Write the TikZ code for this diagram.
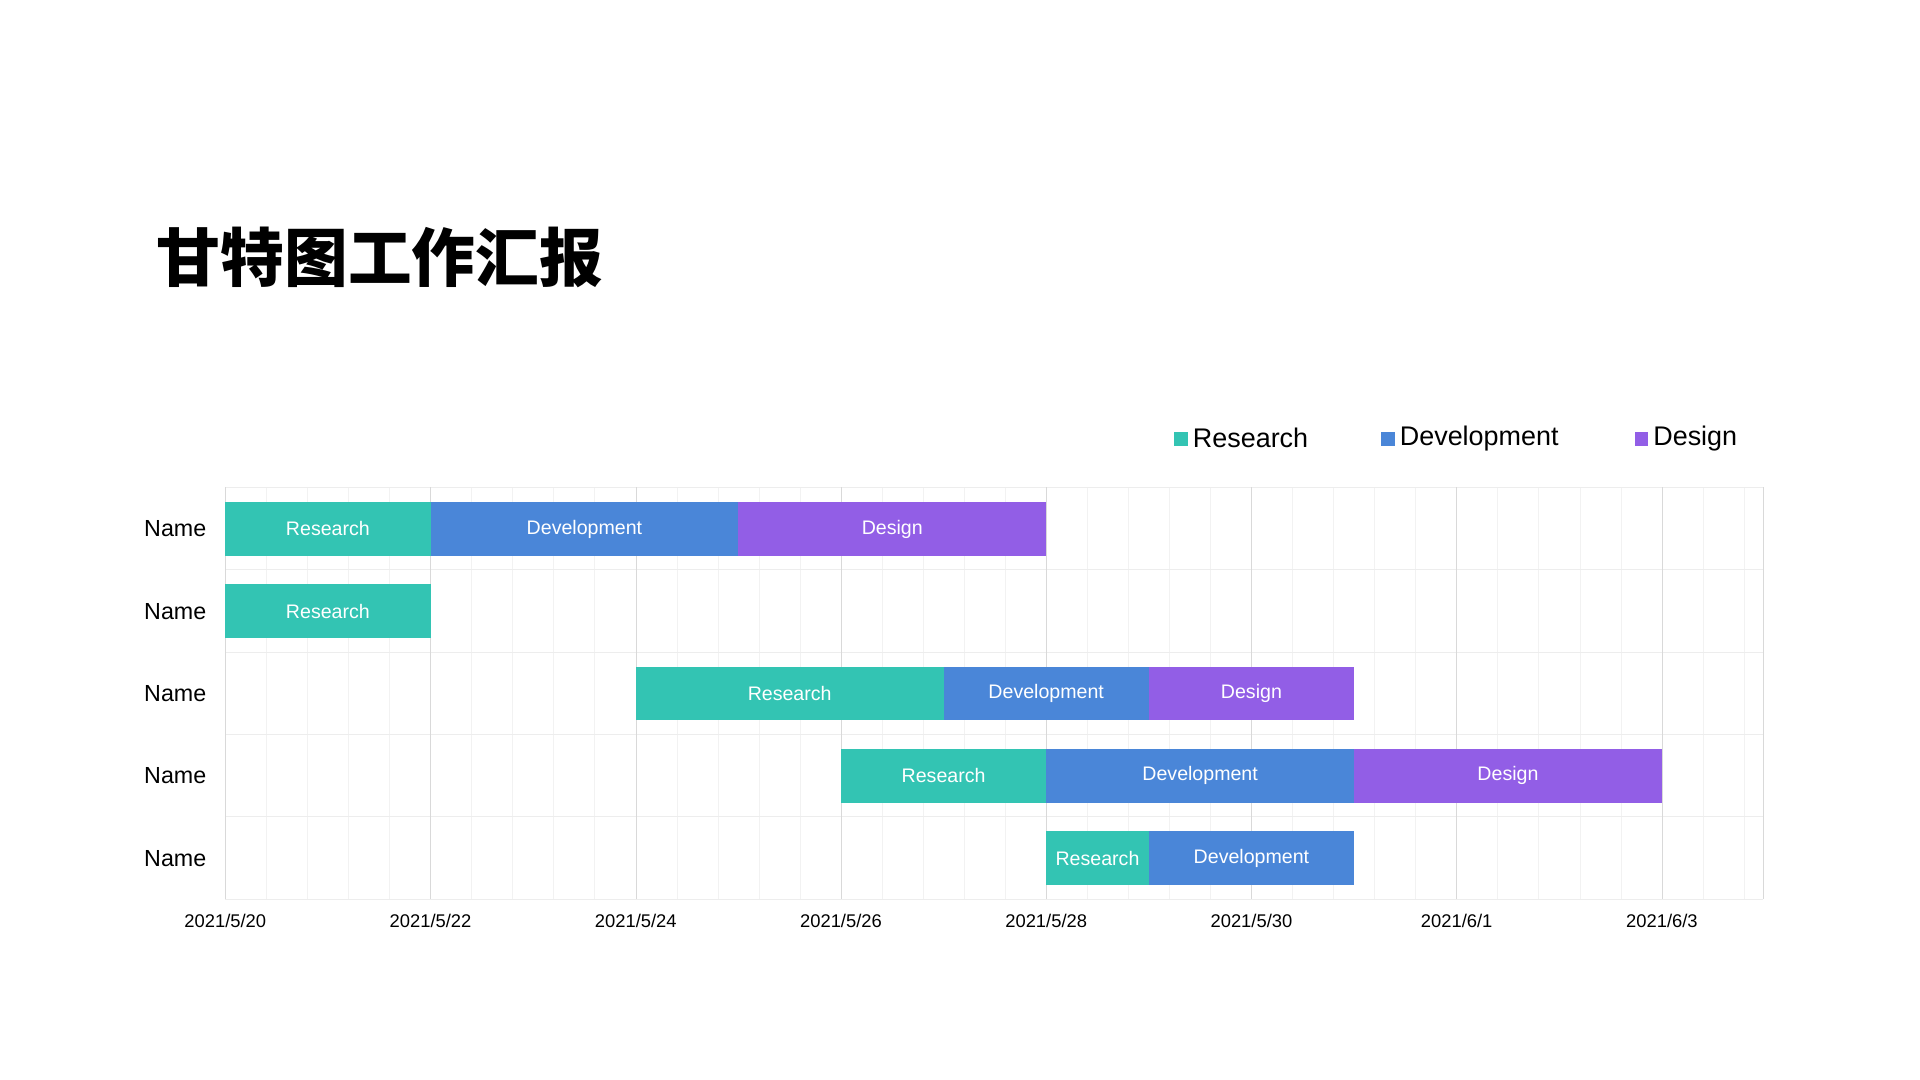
\documentclass[tikz,border=0pt]{standalone}
\usepackage{fontspec}
\setmainfont{Liberation Sans}
\newfontfamily\cjk{Noto Sans CJK SC}
\definecolor{cR}{HTML}{33C4B3}
\definecolor{cD}{HTML}{4A86D8}
\definecolor{cG}{HTML}{925EE6}
\begin{document}
\begin{tikzpicture}[x=1pt,y=-1pt,
  bar/.style={inner sep=0pt,minimum height=44pt,text=white,font=\fontsize{16}{18}\selectfont},
  lab/.style={font=\fontsize{19}{22}\selectfont,anchor=east},
  dlab/.style={font=\fontsize{15}{18}\selectfont},
  leg/.style={font=\fontsize{22}{26}\selectfont,anchor=west,inner sep=1pt}]
\useasboundingbox[fill=white] (0,0) rectangle (1568,882);
\def\dx{83.8}
\node[anchor=base west,inner sep=0pt,font=\cjk\bfseries\fontsize{52}{60}\selectfont] (title) at (128,230) {甘特图工作汇报};
% grid
\foreach \i in {0,...,37}{\draw[black!5] ({184+\i*0.4*\dx},398) -- ({184+\i*0.4*\dx},734);}
\foreach \j in {0,...,5}{\draw[black!7] (184,{398+\j*67.2}) -- (1440,{398+\j*67.2});}
\foreach \i in {0,...,7}{\draw[black!15] ({184+\i*2*\dx},398) -- ({184+\i*2*\dx},734);}
\draw[black!15] (1440,398) -- (1440,734);
% dates
\foreach \d [count=\k from 0] in {2021/5/20,2021/5/22,2021/5/24,2021/5/26,2021/5/28,2021/5/30,2021/6/1,2021/6/3}
  \node[dlab] (d\k) at ({184+\k*2*\dx},752) {\d};
% names
\foreach \r in {1,...,5} \node[lab] (n\r) at (172,{432+(\r-1)*67.2}) {Name};
% bars: row, start, end, colour, label
\foreach \r/\s/\e/\c/\t [count=\q] in {
 1/0/2/cR/Research,1/2/5/cD/Development,1/5/8/cG/Design,
 2/0/2/cR/Research,
 3/4/7/cR/Research,3/7/9/cD/Development,3/9/11/cG/Design,
 4/6/8/cR/Research,4/8/11/cD/Development,4/11/14/cG/Design,
 5/8/9/cR/Research,5/9/11/cD/Development}
 \node[bar,fill=\c,minimum width={(\e-\s)*\dx}] (b\q) at ({184+(\s+\e)/2*\dx},{432+(\r-1)*67.2}) {\t};
% legend
\fill[cR] (959,353) rectangle (970,364); \node[leg] (l1) at (973,358) {Research};
\fill[cD] (1128,353) rectangle (1139,364); \node[leg] (l2) at (1142,358) {Development};
\fill[cG] (1335,353) rectangle (1346,364); \node[leg] (l3) at (1349,358) {Design};
\end{tikzpicture}
\end{document}
